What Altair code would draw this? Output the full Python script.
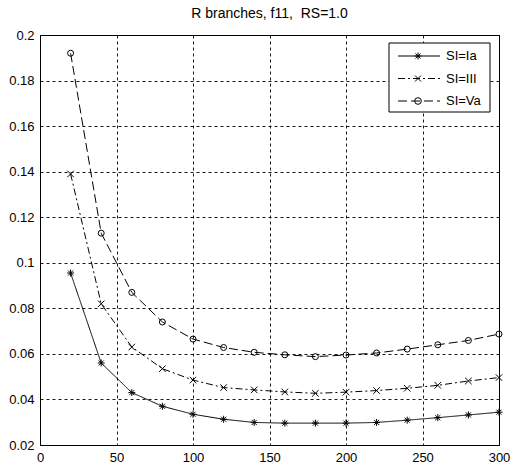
import altair as alt
import pandas as pd

# Number of branches on the x axis
x_vals = [20, 40, 60, 80, 100, 120, 140, 160, 180, 200, 220, 240, 260, 280, 300]

# Response for each SI class
si_ia = [0.0955, 0.0560, 0.0430, 0.0370, 0.0335, 0.0313, 0.0299, 0.0296, 0.0296,
         0.0296, 0.0299, 0.0309, 0.0320, 0.0332, 0.0344]
si_iii = [0.1390, 0.0820, 0.0630, 0.0535, 0.0485, 0.0452, 0.0442, 0.0433, 0.0427,
          0.0432, 0.0439, 0.0449, 0.0462, 0.0481, 0.0496]
si_va = [0.1920, 0.1130, 0.0870, 0.0740, 0.0665, 0.0628, 0.0607, 0.0596, 0.0588,
         0.0595, 0.0604, 0.0621, 0.0640, 0.0659, 0.0687]

series_names = ["SI=Ia", "SI=III", "SI=Va"]
series_values = [si_ia, si_iii, si_va]

x_ticks = [0, 50, 100, 150, 200, 250, 300]
y_ticks = [0.02, 0.04, 0.06, 0.08, 0.1, 0.12, 0.14, 0.16, 0.18, 0.2]

rows = []
for name, vals in zip(series_names, series_values):
    for x, y in zip(x_vals, vals):
        rows.append({"x": x, "y": y, "series": name})
df = pd.DataFrame(rows)

# Line styles and marker glyphs per series
dashes = [[1, 0], [7, 3, 2, 3], [9, 4]]
star = "M-1,0L1,0M0,-1L0,1M-0.72,-0.72L0.72,0.72M-0.72,0.72L0.72,-0.72"
cross_x = "M-1,-1L1,1M-1,1L1,-1"
shapes = [star, cross_x, "circle"]
sizes = [49, 36, 44]

FONT = "Liberation Sans"

x_enc = alt.X("x:Q", scale=alt.Scale(domain=[0, 300], nice=False, zero=False),
              axis=alt.Axis(values=x_ticks, format="d", title=None, labelFlush=False))
y_enc = alt.Y("y:Q", scale=alt.Scale(domain=[0.02, 0.2], nice=False, zero=False),
              axis=alt.Axis(values=y_ticks, format=".2~f", title=None, labelFlush=False))

lines = alt.Chart(df).mark_line(color="black", strokeWidth=1, clip=True).encode(
    x=x_enc,
    y=y_enc,
    strokeDash=alt.StrokeDash("series:N",
                              scale=alt.Scale(domain=series_names, range=dashes),
                              legend=None),
    detail="series:N",
)

points = alt.Chart(df).mark_point(filled=False, color="black", strokeWidth=1, opacity=1).encode(
    x="x:Q",
    y="y:Q",
    shape=alt.Shape("series:N",
                    scale=alt.Scale(domain=series_names, range=shapes),
                    legend=None),
    size=alt.Size("series:N",
                  scale=alt.Scale(domain=series_names, range=sizes),
                  legend=None),
)

# Boxed key in the upper right corner
one = pd.DataFrame({"k": [0]})
key_layers = [
    alt.Chart(one).mark_rect(fill="white", stroke="black", strokeWidth=1).encode(
        x=alt.value(349), x2=alt.value(450), y=alt.value(8), y2=alt.value(77)
    )
]
row_y = [21, 43.5, 66]
for name, dash, shp, sz, ry in zip(series_names, dashes, shapes, sizes, row_y):
    key_layers.append(
        alt.Chart(one).mark_rule(color="black", strokeWidth=1, strokeDash=dash).encode(
            x=alt.value(358), x2=alt.value(400), y=alt.value(ry)
        )
    )
    key_layers.append(
        alt.Chart(one).mark_point(filled=False, color="black", strokeWidth=1,
                                  shape=shp, size=sz, opacity=1).encode(
            x=alt.value(378), y=alt.value(ry)
        )
    )
    key_layers.append(
        alt.Chart(one).mark_text(text=name, align="left", baseline="middle",
                                 font=FONT, fontSize=13, color="black").encode(
            x=alt.value(406), y=alt.value(ry)
        )
    )

chart = alt.layer(lines, points, *key_layers).properties(
    width=459,
    height=410,
    title=alt.TitleParams("R branches, f11,\u00a0 RS=1.0", font=FONT, fontSize=14,
                          fontWeight="normal", color="black", anchor="middle",
                          offset=8),
    autosize=alt.AutoSizeParams(type="none"),
    padding={"left": 40, "top": 35, "right": 15, "bottom": 23},
    background="white",
).configure_view(
    stroke="black", strokeWidth=1
).configure_axis(
    labelFont=FONT, labelFontSize=13, labelColor="black",
    ticks=False, domain=False, labelPadding=6,
    grid=True, gridColor="black", gridDash=[3, 3], gridOpacity=0.9, gridWidth=1,
)

chart.save("out.html", embed_options={"renderer": "svg", "actions": False})
